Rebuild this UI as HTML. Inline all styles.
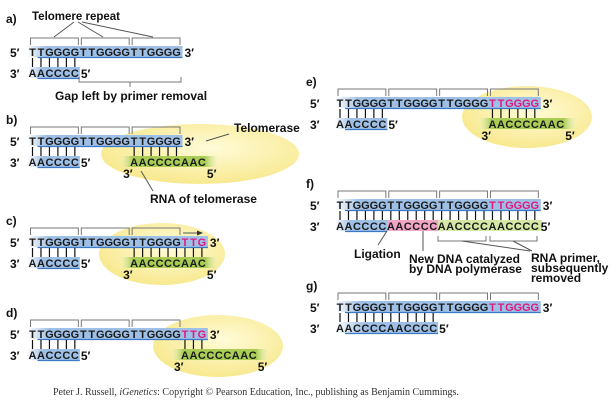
<!DOCTYPE html>
<html><head><meta charset="utf-8"><style>
html,body{margin:0;padding:0;background:#fff;}
svg{display:block;font-family:"Liberation Sans",sans-serif;}
</style></head><body>
<svg id="fig" width="611" height="407" viewBox="0 0 611 407">
<defs>
<linearGradient id="blueL" x1="0" x2="1" y1="0" y2="0"><stop offset="0" stop-color="#fff"/><stop offset="0.12" stop-color="#9fc0e6"/><stop offset="1" stop-color="#9fc0e6"/></linearGradient>
<linearGradient id="blueS" x1="0" x2="1" y1="0" y2="0"><stop offset="0" stop-color="#fff"/><stop offset="0.3" stop-color="#9fc0e6"/><stop offset="1" stop-color="#9fc0e6"/></linearGradient>
<linearGradient id="green" x1="0" x2="1" y1="0" y2="0"><stop offset="0" stop-color="#e8f2c0" stop-opacity="0.3"/><stop offset="0.12" stop-color="#a9cc55"/><stop offset="0.88" stop-color="#a9cc55"/><stop offset="1" stop-color="#e8f2c0" stop-opacity="0.3"/></linearGradient>
<radialGradient id="yel" cx="0.55" cy="0.4" r="0.6"><stop offset="0" stop-color="#fffbd8"/><stop offset="1" stop-color="#f8e98f"/></radialGradient>
</defs>
</svg>
<script>
const SP = 8.47;
const LX = 32.5, RX = 340;
const TOP18 = "TTGGGGTTGGGGTTGGGG";
const RNA = "AACCCCAAC";
const svg = document.getElementById('fig');
const NS = 'http://www.w3.org/2000/svg';
function mk(tag, attrs, name, parent) {
  const el = document.createElementNS(NS, tag);
  for (const k in attrs) el.setAttribute(k, attrs[k]);
  
  
  (parent || svg).appendChild(el);
  return el;
}
function txt(x, y, s, name, opts) {
  opts = opts || {};
  const t = mk('text', {x: x, y: y, 'font-size': opts.size || 12, 'font-weight': opts.weight || 'bold', fill: opts.fill || '#111', 'text-anchor': opts.anchor || 'start', 'font-family': opts.family || '"Liberation Sans",sans-serif'}, name);
  t.textContent = s;
  return t;
}
function bx(x0, i) { return x0 + i * SP; }
function ellipse(cx, cy, rx, ry, name) { mk('ellipse', {cx: cx, cy: cy, rx: rx, ry: ry, fill: 'url(#yel)'}, name); }
function bar(xa, xb, cy, fill, name, edge) {
  mk('rect', {x: xa, y: cy - 6, width: xb - xa, height: 11, fill: fill}, name);
  if (edge) mk('line', {x1: xa + 10, x2: xb, y1: cy + 5.5, y2: cy + 5.5, stroke: edge, 'stroke-width': 1.3}, name + '-edge');
}
function letters(x0, start, cy, seq, pinkFrom, name) {
  for (let i = 0; i < seq.length; i++) {
    txt(bx(x0, start + i), cy + 4, seq[i], name + '-base', {size: 11, anchor: 'middle', fill: (pinkFrom != null && i >= pinkFrom) ? '#e0197d' : '#1a1a1a'});
  }
}
function bonds(x0, from, to, y1, y2, name) {
  for (let i = from; i <= to; i++) mk('line', {x1: bx(x0, i), x2: bx(x0, i), y1: y1, y2: y2, stroke: '#111', 'stroke-width': 1.2}, name);
}
function brackets(x0, n, y1, y2, name) {
  for (let g = 0; g < n; g++) {
    const a = bx(x0, g * 6) - 2, b = bx(x0, g * 6 + 5) + 3.5;
    mk('path', {d: `M${a} ${y2}V${y1}H${b}V${y2}`, fill: 'none', stroke: '#777', 'stroke-width': 1}, name);
  }
}
function line(x1, y1, x2, y2, name) { mk('line', {x1: x1, y1: y1, x2: x2, y2: y2, stroke: '#555', 'stroke-width': 1}, name); }

function panel(p) {
  const x0 = p.x0;
  if (p.ell) ellipse(p.ell[0], p.ell[1], p.ell[2], p.ell[3], p.id + '-telomerase-ellipse');
  txt(p.lx - 4, p.labY != null ? p.labY : p.ty - 17, p.id + ')', p.id + '-panel-label', {size: 12});
  brackets(x0, p.nbr, p.ty - 14, p.ty - 7, p.id + '-repeat-bracket');
  const lastX = bx(x0, p.top.length - 1);
  bar(x0 - 5, lastX + 6, p.ty, 'url(#blueL)', p.id + '-top-strand', '#3d78c4');
  letters(x0, 0, p.ty, p.top, p.pink, p.id + '-top');
  txt(p.lx, p.ty + 5, '5\u2032', p.id + '-top-5prime');
  txt(lastX + 8, p.ty + 5, '3\u2032', p.id + '-top-3prime');
  const by = p.ty + 21;
  if (p.botSegs) {
    p.botSegs.forEach(s => bar(s[0], s[1], by, s[2], p.id + '-bottom-seg', s[3]));
  } else {
    bar(x0 - 5, bx(x0, p.bot.length - 1) + 5, by, 'url(#blueS)', p.id + '-bottom-strand', '#3d78c4');
  }
  letters(x0, 0, by, p.bot, null, p.id + '-bottom');
  txt(p.lx, by + 5, '3\u2032', p.id + '-bottom-3prime');
  txt(bx(x0, p.bot.length - 1) + 6, by + 5, '5\u2032', p.id + '-bottom-5prime');
  bonds(x0, 0, Math.min(p.bot.length, p.top.length) - 1, p.ty + 6, by - 6, p.id + '-bond');
  if (p.rna != null) {
    const ry = by;
    const ra = bx(x0, p.rna) - 13, rb = bx(x0, p.rna + 8) + 15;
    bar(ra, rb, ry, 'url(#green)', p.id + '-rna-template', null);
    letters(x0, p.rna, ry, RNA, null, p.id + '-rna');
    txt(ra + 2, ry + 16, '3\u2032', p.id + '-rna-3prime');
    txt(rb - 10, ry + 16, '5\u2032', p.id + '-rna-5prime');
    bonds(x0, p.rb[0], p.rb[1], p.ty + 6, ry - 6, p.id + '-rna-bond');
  }
}

panel({id: 'a', x0: LX, lx: 10, ty: 52, labY: 23, top: TOP18, pink: null, nbr: 3, bot: 'AACCCC'});
panel({id: 'b', x0: LX, lx: 10, ty: 141, top: TOP18, pink: null, nbr: 3, bot: 'AACCCC', ell: [200, 154, 99, 30], rna: 12, rb: [12, 17]});
panel({id: 'c', x0: LX, lx: 10, ty: 242, top: TOP18 + 'TTG', pink: 18, nbr: 3, bot: 'AACCCC', ell: [162, 254, 63, 31], rna: 12, rb: [12, 20]});
panel({id: 'd', x0: LX, lx: 10, ty: 334, top: TOP18 + 'TTG', pink: 18, nbr: 3, bot: 'AACCCC', ell: [218, 346, 65, 31], rna: 18, rb: [18, 20]});
panel({id: 'e', x0: RX, lx: 310, ty: 103, top: TOP18 + 'TTGGGG', pink: 18, nbr: 4, bot: 'AACCCC', ell: [527, 117, 65, 31], rna: 18, rb: [18, 23]});
panel({id: 'f', x0: RX, lx: 310, ty: 205, top: TOP18 + 'TTGGGG', pink: 18, nbr: 4, bot: 'AACCCCAACCCCAACCCCAACCCC',
  botSegs: [[335, 387, 'url(#blueS)', '#3d78c4'], [387, 438, '#f2a6c6', null], [438, 542, '#d6e8a6', null]]});
panel({id: 'g', x0: RX, lx: 310, ty: 307, top: TOP18 + 'TTGGGG', pink: 18, nbr: 4, bot: 'AACCCCAACCCC'});

txt(32, 20, 'Telomere repeat', 'telomere-repeat-label', {size: 11.5});
line(74, 22, 54, 37, 'telomere-pointer');
line(78, 22, 103, 37, 'telomere-pointer');
line(82, 22, 153, 37, 'telomere-pointer');
mk('path', {d: 'M79 77V82H181V77M130 82V87', fill: 'none', stroke: '#777', 'stroke-width': 1}, 'gap-bracket');
txt(55, 100, 'Gap left by primer removal', 'gap-label', {size: 12});
txt(234, 132, 'Telomerase', 'telomerase-label', {size: 12});
line(229, 134, 206, 141, 'telomerase-pointer');
txt(150, 203, 'RNA of telomerase', 'rna-of-telomerase-label', {size: 12});
line(141, 171, 153, 191, 'rna-pointer');
line(183, 233, 200, 233, 'extension-arrow');
mk('path', {d: 'M203 233L197 230.5V235.5Z', fill: '#333'}, 'extension-arrowhead');
mk('path', {d: 'M438 236V241H486V236M490 236V241H537V236', fill: 'none', stroke: '#777', 'stroke-width': 1}, 'rna-primer-bracket');
line(462, 241, 530, 251, 'rna-primer-pointer');
line(513, 241, 532, 251, 'rna-primer-pointer');
line(387, 231, 378, 245, 'ligation-pointer');
txt(354, 258, 'Ligation', 'ligation-label', {size: 12});
line(423, 231, 423, 251, 'new-dna-pointer');
txt(409, 263, 'New DNA catalyzed', 'new-dna-label-1', {size: 12});
txt(409, 273, 'by DNA polymerase', 'new-dna-label-2', {size: 12});
txt(531, 262, 'RNA primer,', 'rna-primer-label-1', {size: 12});
txt(531, 272, 'subsequently', 'rna-primer-label-2', {size: 12});
txt(531, 282, 'removed', 'rna-primer-label-3', {size: 12});
const f = txt(53, 395, '', 'copyright-footer', {size: 10, weight: 'normal', family: '"Liberation Serif",serif', fill: '#333'});
f.innerHTML = 'Peter J. Russell, <tspan font-style="italic">iGenetics</tspan>: Copyright © Pearson Education, Inc., publishing as Benjamin Cummings.';
</script>
</body></html>
